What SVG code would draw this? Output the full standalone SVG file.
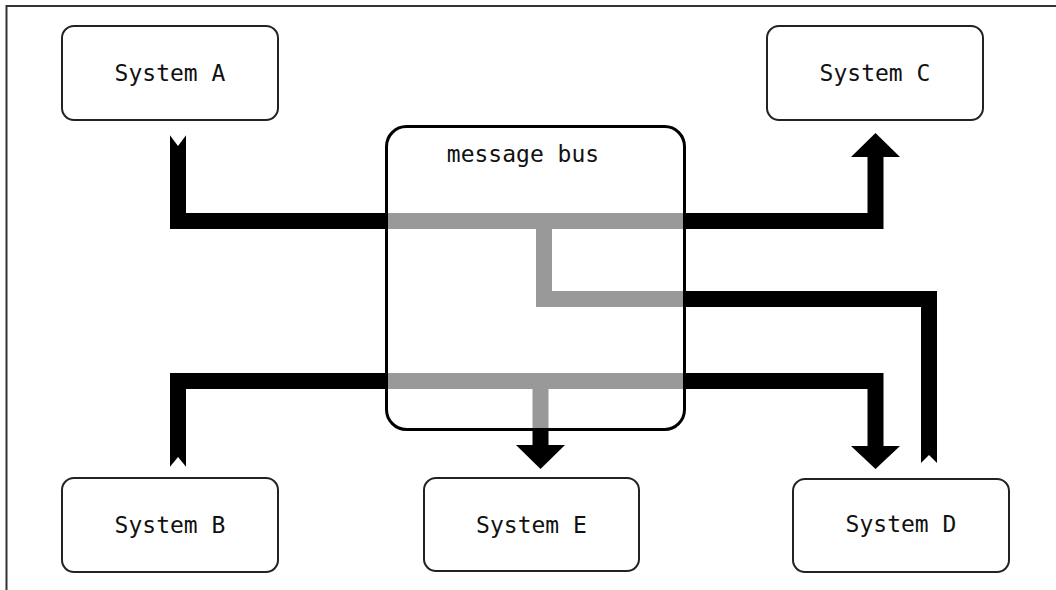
<svg xmlns="http://www.w3.org/2000/svg" width="1056" height="590" viewBox="0 0 1056 590">
  <style>
    .frame { fill: none; stroke: #333; stroke-width: 2; }
    .box { fill: #fff; stroke: #222; stroke-width: 2; }
    .bus { fill: #fff; fill-opacity: 0.6; stroke: #000; stroke-width: 3; }
    .lbl { font-family: "DejaVu Sans Mono", "Liberation Mono", monospace; font-size: 23px; fill: #111; text-anchor: middle; }
    .wire { fill: none; stroke: #000; stroke-width: 16; stroke-linejoin: miter; stroke-linecap: butt; }
    .head { fill: #000; }
    .notch { fill: #fff; }
  </style>
  <rect width="1056" height="590" fill="#fff"/>
  <path class="frame" d="M6.5,590 V6 H1056"/>

  <g id="connectors">
    <path class="wire" d="M178,135 V221 H875.5 V156"/>
    <polygon class="head" points="851,157 900,157 875.5,133"/>
    <polygon class="notch" points="169,134 187,134 178,146"/>

    <path class="wire" d="M929,463 V299 H544 V221"/>
    <polygon class="notch" points="920,464 938,464 929,455"/>

    <path class="wire" d="M178,467 V381 H875.5 V447"/>
    <polygon class="head" points="851,446 900,446 875.5,469"/>
    <polygon class="notch" points="169,468 187,468 178,457"/>

    <path class="wire" d="M540.5,381 V446"/>
    <polygon class="head" points="516,445 565,445 540.5,469"/>
  </g>

  <g id="message-bus">
    <rect class="bus" x="386.5" y="126.5" width="298" height="303" rx="20"/>
    <text class="lbl" x="523" y="162">message bus</text>
  </g>

  <g id="system-a">
    <rect class="box" x="62" y="26" width="216" height="94" rx="12"/>
    <text class="lbl" x="170" y="81">System A</text>
  </g>
  <g id="system-c">
    <rect class="box" x="767" y="26" width="216" height="94" rx="12"/>
    <text class="lbl" x="875" y="81">System C</text>
  </g>
  <g id="system-b">
    <rect class="box" x="62" y="478" width="216" height="94" rx="12"/>
    <text class="lbl" x="170" y="533">System B</text>
  </g>
  <g id="system-e">
    <rect class="box" x="424" y="478" width="215" height="93" rx="12"/>
    <text class="lbl" x="531.5" y="533">System E</text>
  </g>
  <g id="system-d">
    <rect class="box" x="793" y="479" width="216" height="93" rx="12"/>
    <text class="lbl" x="901" y="532">System D</text>
  </g>
</svg>
